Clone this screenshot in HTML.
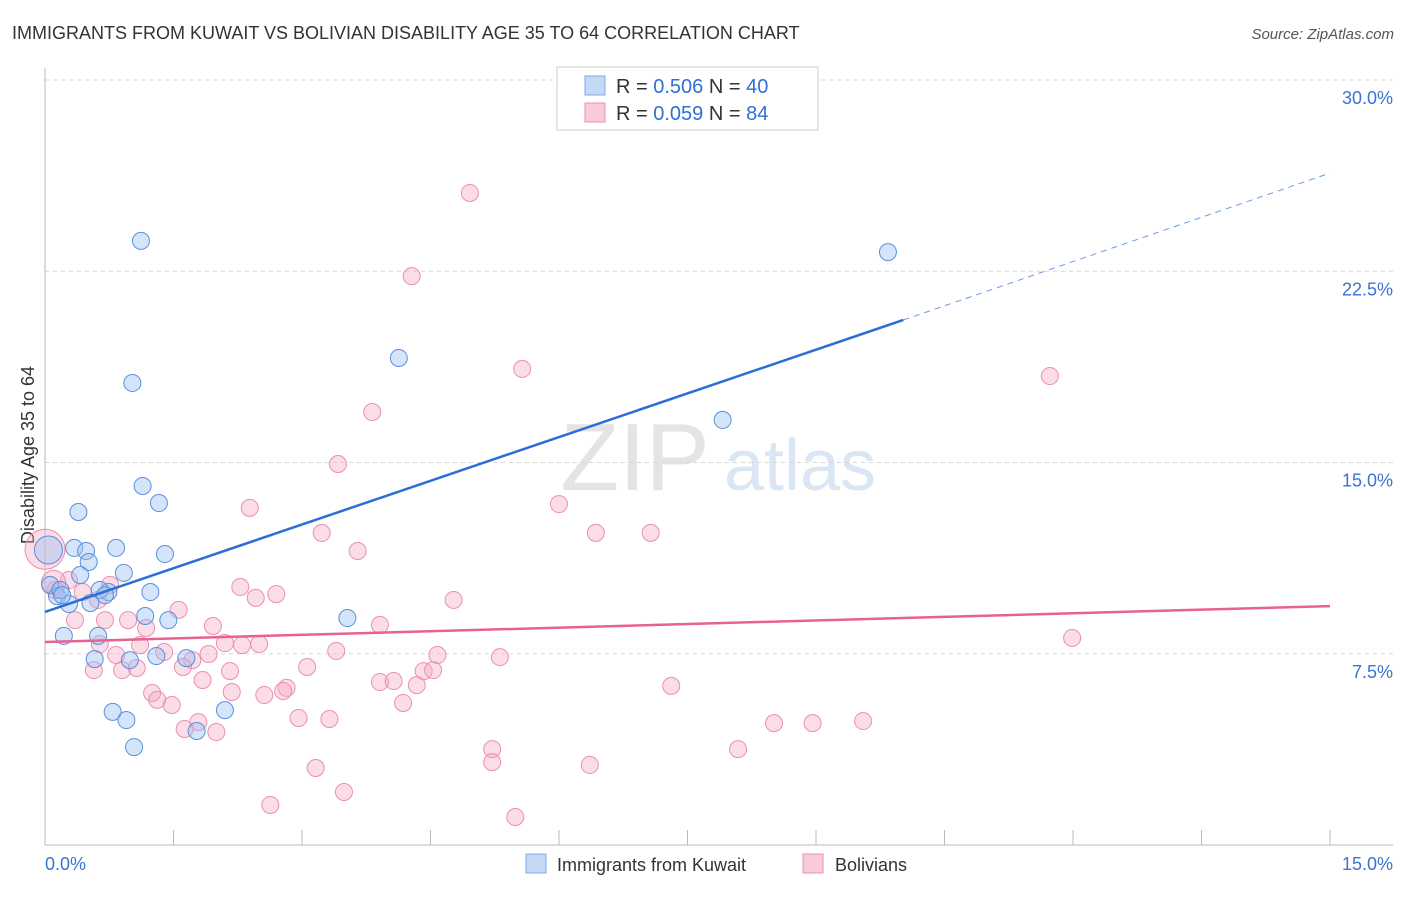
<!DOCTYPE html>
<html><head><meta charset="utf-8"><style>
body{margin:0;background:#fff;font-family:"Liberation Sans",sans-serif;}
svg text{font-family:"Liberation Sans",sans-serif;}
</style></head><body>
<svg id="chart" width="1406" height="892" xmlns="http://www.w3.org/2000/svg">
<text x="12" y="39" font-size="18" fill="#333">IMMIGRANTS FROM KUWAIT VS BOLIVIAN DISABILITY AGE 35 TO 64 CORRELATION CHART</text>
<text x="1394" y="39" font-size="15" fill="#555" text-anchor="end" font-style="italic">Source: ZipAtlas.com</text>
<text x="635" y="490" font-size="96" fill="#e4e4e4" font-family="Liberation Serif" text-anchor="middle">ZIP</text>
<text x="800" y="490" font-size="72" fill="#dbe6f5" text-anchor="middle">atlas</text>
<text transform="translate(34,455) rotate(-90)" font-size="18" fill="#333" text-anchor="middle">Disability Age 35 to 64</text>
<g id="grid"></g><g id="axes"></g><g id="marks"></g><g id="lines"></g>
<g>
<rect x="557" y="67" width="261" height="63" fill="#fff" stroke="#ccc"/>
<rect x="585" y="76" width="20" height="19" fill="#c5d9f6" stroke="#7fa9e6"/>
<rect x="585" y="103" width="20" height="19" fill="#f9cad8" stroke="#ee92af"/>
<text x="616" y="93" font-size="20" fill="#333">R = <tspan fill="#2f6fd6">0.506</tspan>   N = <tspan fill="#2f6fd6">40</tspan></text>
<text x="616" y="120" font-size="20" fill="#333">R = <tspan fill="#2f6fd6">0.059</tspan>   N = <tspan fill="#2f6fd6">84</tspan></text>
</g>
<g>
<rect x="526" y="854" width="20" height="19" fill="#c5d9f6" stroke="#7fa9e6"/>
<text x="557" y="871" font-size="18" fill="#333">Immigrants from Kuwait</text>
<rect x="803" y="854" width="20" height="19" fill="#f9cad8" stroke="#ee92af"/>
<text x="835" y="871" font-size="18" fill="#333">Bolivians</text>
</g>
</svg>
<script>
const xTicks=[0,1.5,3,4.5,6,7.5,9,10.5,12,13.5,15];
const yTicks=[7.5,15,22.5,30];
const yTickLabels=["7.5%","15.0%","22.5%","30.0%"];
const xEndLabels=["0.0%","15.0%"];
const kuwaitX=[1.12,9.84,4.13,1.02,7.91,1.14,1.33,0.39,1.40,0.83,0.34,0.48,0.51,0.92,0.41,0.06,1.23,0.74,0.14,0.28,0.53,1.17,1.44,3.53,0.22,0.62,0.58,0.99,1.30,1.65,2.10,0.79,0.95,1.04,1.77,0.18,0.64,0.70,0.20,0.04];
const kuwaitY=[23.69,23.25,19.10,18.12,16.67,14.08,13.41,13.06,11.41,11.65,11.65,11.53,11.10,10.67,10.59,10.20,9.92,9.92,9.76,9.45,9.49,8.98,8.82,8.90,8.20,8.20,7.29,7.25,7.41,7.33,5.29,5.22,4.90,3.84,4.47,10.0,10.0,9.80,9.80,11.57];
const bolX=[4.96,4.28,5.57,11.73,3.82,3.42,6.00,2.39,3.23,6.43,7.07,3.65,2.28,2.70,2.46,4.77,1.56,0.28,0.76,0.12,0.44,0.62,0.97,0.35,0.70,1.18,1.96,3.91,11.99,2.10,2.30,2.50,0.64,1.11,3.40,1.39,1.72,1.91,0.83,4.58,5.31,3.06,2.16,0.57,0.90,1.07,1.61,4.42,4.53,1.84,3.91,4.07,4.34,2.82,2.78,2.56,2.18,1.25,1.31,1.48,4.18,7.31,2.96,3.32,1.79,1.63,2.00,8.51,8.96,9.55,8.09,5.22,5.22,6.36,3.16,3.49,2.63,5.49,0.0,0.10];
const bolY=[25.57,22.31,18.67,18.39,16.98,14.94,13.37,13.22,12.24,12.24,12.24,11.53,10.12,9.84,9.69,9.61,9.22,10.39,10.20,10.0,9.92,9.61,8.82,8.82,8.82,8.51,8.59,8.63,8.12,7.92,7.84,7.88,7.88,7.84,7.61,7.57,7.25,7.49,7.45,7.45,7.37,6.98,6.82,6.86,6.86,6.94,6.98,6.82,6.86,6.47,6.39,6.43,6.27,6.16,6.04,5.88,6.00,5.96,5.69,5.49,5.57,6.24,4.98,4.94,4.82,4.55,4.43,4.78,4.78,4.86,3.76,3.76,3.25,3.14,3.02,2.08,1.57,1.10,11.6,10.3];
const kuwaitFit=[9.14,20.59,26.35]; // y at x=0, x=10.02 (solid end), x=15
const kuwaitFitX=[0,10.02,15];
const bolFit=[7.96,9.37];
const X=v=>45+v/15*1285;
const Y=v=>845-v/30*765;
const NS="http://www.w3.org/2000/svg";
function mk(parent,tag,attrs){const e=document.createElementNS(NS,tag);for(const k in attrs)e.setAttribute(k,attrs[k]);document.getElementById(parent).appendChild(e);return e;}
yTicks.forEach((t,i)=>{
 const l=mk('grid','line',{x1:45,x2:1393,y1:Y(t),y2:Y(t),stroke:'#d8d8d8','stroke-dasharray':'4,4'});
 
 
 const tx=mk('axes','text',{x:1393,y:Y(t)+24,'font-size':18,fill:'#3b73d1','text-anchor':'end'});
 tx.textContent=yTickLabels[i];
 
 
});
const ax=mk('axes','line',{x1:45,x2:1393,y1:845,y2:845,stroke:'#bbb'});


const ay=mk('axes','line',{x1:45,x2:45,y1:68,y2:845,stroke:'#bbb'});


xTicks.slice(1).forEach(t=>{
 const tk=mk('axes','line',{x1:X(t),x2:X(t),y1:830,y2:845,stroke:'#bbb'});
 
 
});
const xl0=mk('axes','text',{x:45,y:870,'font-size':18,fill:'#3b73d1'});xl0.textContent=xEndLabels[0];


const xl1=mk('axes','text',{x:1393,y:870,'font-size':18,fill:'#3b73d1','text-anchor':'end'});xl1.textContent=xEndLabels[1];


bolX.forEach((v,i)=>{
 const big=i>=bolX.length-2;
 const c=mk('marks','circle',{cx:X(v),cy:Y(bolY[i]),r:big?(i==bolX.length-2?20:12):8.5,fill:'rgba(246,170,195,0.4)',stroke:'#ec8fae','stroke-width':1});
 
 
});
kuwaitX.forEach((v,i)=>{
 const big=i==kuwaitX.length-1;
 const c=mk('marks','circle',{cx:X(v),cy:Y(kuwaitY[i]),r:big?14:8.5,fill:'rgba(150,190,240,0.4)',stroke:'#5b8fdc','stroke-width':1});
 
 
});
const bl=mk('lines','line',{x1:X(kuwaitFitX[0]),y1:Y(kuwaitFit[0]),x2:X(kuwaitFitX[1]),y2:Y(kuwaitFit[1]),stroke:'#2a6fd8','stroke-width':2.5});


const bd=mk('lines','line',{x1:X(kuwaitFitX[1]),y1:Y(kuwaitFit[1]),x2:X(kuwaitFitX[2]),y2:Y(kuwaitFit[2]),stroke:'#6a9be0','stroke-width':1,'stroke-dasharray':'6,5'});


const pl=mk('lines','line',{x1:X(0),y1:Y(bolFit[0]),x2:X(15),y2:Y(bolFit[1]),stroke:'#e8628f','stroke-width':2.5});


</script>
</body></html>
